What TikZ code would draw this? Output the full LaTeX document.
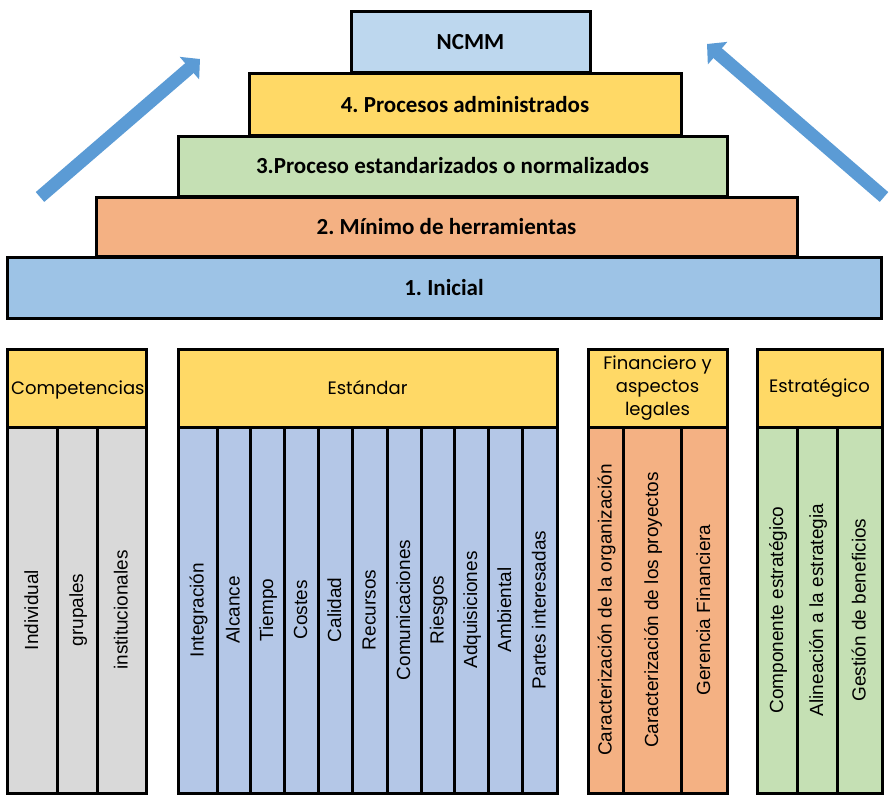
\documentclass[tikz,border=0pt]{standalone}
\usepackage{fontspec}
\setmainfont{Carlito}
\newfontfamily\colfont{Liberation Sans}
\newfontfamily\headfont{Poppins}
\usetikzlibrary{arrows.meta,positioning}

\definecolor{ncmmblue}{HTML}{BDD7EE}
\definecolor{lvlyellow}{HTML}{FFD966}
\definecolor{lvlgreen}{HTML}{C5E0B4}
\definecolor{lvlorange}{HTML}{F4B183}
\definecolor{lvlblue}{HTML}{9DC3E6}
\definecolor{compgray}{HTML}{D9D9D9}
\definecolor{stdblue}{HTML}{B4C7E7}
\definecolor{arrowblue}{HTML}{5B9BD5}

\tikzset{
  level/.style={draw, line width=3pt, inner sep=0pt,
    font=\frenchspacing\bfseries\fontsize{23}{27}\selectfont},
  header/.style={draw, line width=3pt, fill=lvlyellow, inner sep=0pt, align=center,
    font=\headfont\fontsize{18}{23}\selectfont},
  column/.style={draw, line width=3pt, rotate=90, inner sep=0pt, minimum width=366pt,
    text height=15pt, text depth=3pt, font=\colfont\fontsize{19}{21}\selectfont},
  risearrow/.style={draw=arrowblue, line width=13pt, -{Triangle[length=14pt,width=29pt]}}
}

\begin{document}
\begin{tikzpicture}[x=1pt,y=-1pt]
  \useasboundingbox (0,0) rectangle (894,800);

  % levels
  \node[level, fill=lvlblue, minimum width=874pt, minimum height=61pt] (lvl1) at (444,287.5) {1. Inicial};
  \node[level, fill=lvlorange, minimum width=701pt, minimum height=59pt] (lvl2) at (446.5,226.5) {2. Mínimo de herramientas};
  \node[level, fill=lvlgreen, minimum width=549pt, minimum height=60pt] (lvl3) at (452.5,166) {3.Proceso estandarizados o normalizados};
  \node[level, fill=lvlyellow, minimum width=432pt, minimum height=61pt] (lvl4) at (465,104.5) {4. Procesos administrados};
  \node[level, fill=ncmmblue, minimum width=239pt, minimum height=61pt] (ncmm) at (470.5,42.5) {NCMM};

  % arrows
  \coordinate (lt) at (40,197);
  \coordinate (lh) at (200,59);
  \coordinate (rt) at (884,197);
  \coordinate (rh) at (707,44);
  \draw[risearrow] (lt) -- (lh);
  \draw[risearrow] (rt) -- (rh);

  % headers
  \node[header, minimum width=139pt, minimum height=78pt] (hcomp) at (76.5,388) {};
  \begin{scope}
    \clip (8.5,350.5) rectangle (144.5,425.5);
    \node[anchor=west, inner sep=0pt, font=\headfont\fontsize{18}{23}\selectfont] (tcomp) at (11,390) {Competencias};
  \end{scope}
  \node[header, minimum width=379pt, minimum height=78pt] (hstd) at (367.5,388) {Estándar};
  \node[header, minimum width=139pt, minimum height=78pt] (hfin) at (657.5,388) {Financiero y\\aspectos\\legales};
  \node[header, minimum width=125pt, minimum height=78pt] (hstr) at (819.5,388) {Estratégico};

  % columns
  \foreach \l/\r/\t [count=\i] in {7/57/Individual, 57/97/grupales, 97/146/institucionales}
    \node[column, fill=compgray, minimum height={(\r-\l)*1pt}] (comp\i) at ({(\l+\r)/2},610) {\t};
  \foreach \l/\r/\t [count=\i] in {178/217/Integración, 217/250/Alcance, 250/284/Tiempo,
      284/318/Costes, 318/352/Calidad, 352/387/Recursos, 387/421/Comunicaciones,
      421/454/Riesgos, 454/488/Adquisiciones, 488/522/Ambiental, 522/557/Partes interesadas}
    \node[column, fill=stdblue, minimum height={(\r-\l)*1pt}] (std\i) at ({(\l+\r)/2},610) {\t};
  \foreach \l/\r/\t [count=\i] in {588/623/Caracterización de la organización,
      623/681/Caracterización de los proyectos, 681/727/Gerencia Financiera}
    \node[column, fill=lvlorange, minimum height={(\r-\l)*1pt}] (fin\i) at ({(\l+\r)/2},610) {\t};
  \foreach \l/\r/\t [count=\i] in {757/797/Componente estratégico,
      797/837/Alineación a la estrategia, 837/882/Gestión de beneficios}
    \node[column, fill=lvlgreen, minimum height={(\r-\l)*1pt}] (str\i) at ({(\l+\r)/2},610) {\t};
\end{tikzpicture}
\end{document}
